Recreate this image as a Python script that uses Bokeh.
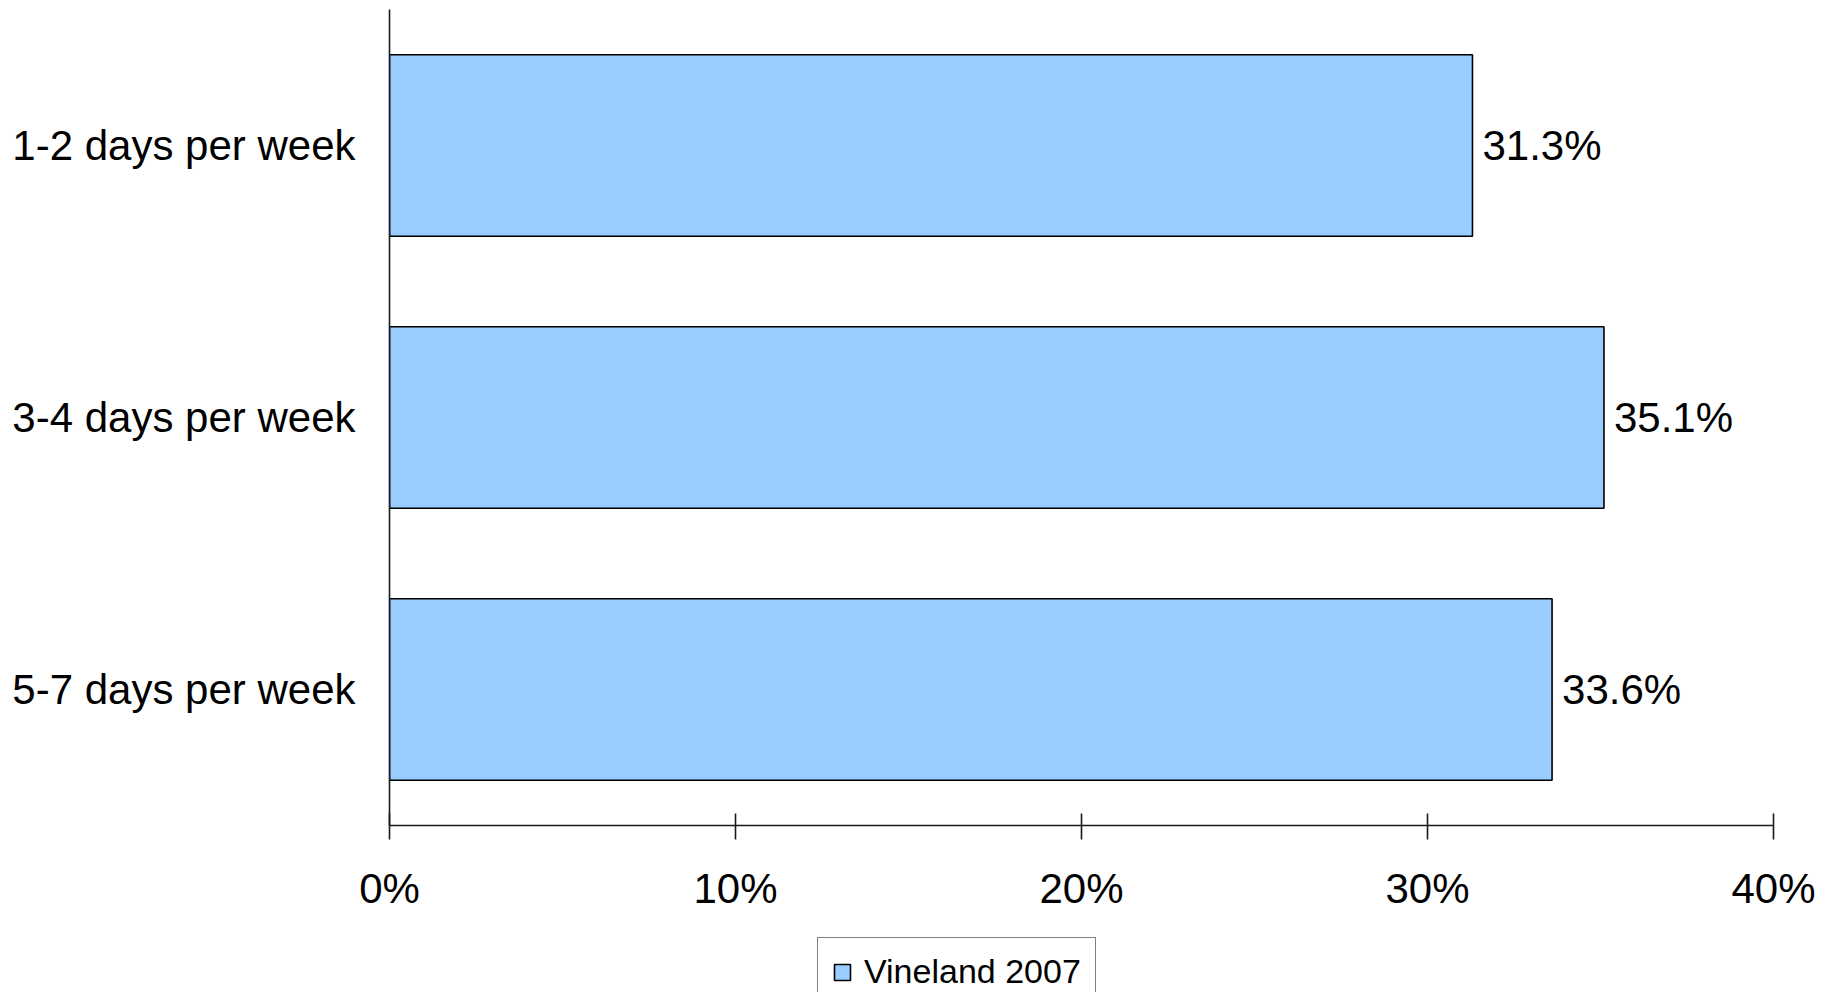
from bokeh.plotting import figure
from bokeh.layouts import column
from bokeh.models import ColumnDataSource, FactorRange, Range1d, NumeralTickFormatter, Legend, LegendItem, FixedTicker
from bokeh.core.properties import value
from bokeh.embed import file_html
from bokeh.resources import INLINE

categories = ["1-2 days per week", "3-4 days per week", "5-7 days per week"]
values = [0.313, 0.351, 0.336]
series_name = "Vineland 2007"
x_ticks = [0.0, 0.1, 0.2, 0.3, 0.4]

FONT = "Liberation Sans"
FILL = "#99CCFF"

src = ColumnDataSource(dict(
    cat=categories,
    val=values,
    lbl=[f"{v * 100:.1f}%" for v in values],
))

p = figure(
    width=1827, height=930,
    y_range=FactorRange(*list(reversed(categories)), range_padding=0),
    x_range=Range1d(0, 0.4),
    output_backend="svg", toolbar_location=None,
    min_border_left=389, min_border_right=54, min_border_top=9, min_border_bottom=105,
)
p.outline_line_color = None
p.xgrid.grid_line_color = None
p.ygrid.grid_line_color = None
p.background_fill_color = "white"
p.border_fill_color = "white"

bars = p.hbar(y="cat", right="val", left=0, height=0.667, source=src,
              fill_color=FILL, line_color="black", line_width=1.6)

p.text(x="val", y="cat", text="lbl", source=src, x_offset=10,
       text_baseline="middle", text_align="left",
       text_font=value(FONT), text_font_size="42px", text_color="black")

xa = p.xaxis[0]
xa.ticker = FixedTicker(ticks=x_ticks)
xa.formatter = NumeralTickFormatter(format="0%")
xa.major_tick_in = 12
xa.major_tick_out = 14
xa.minor_tick_line_color = None
xa.axis_line_color = "#1a1a1a"
xa.axis_line_width = 1.6
xa.major_tick_line_color = "#1a1a1a"
xa.major_tick_line_width = 1.6
xa.major_label_text_font = FONT
xa.major_label_text_font_size = "42px"
xa.major_label_text_color = "black"
xa.major_label_standoff = 25

ya = p.yaxis[0]
ya.major_tick_in = 0
ya.major_tick_out = 0
ya.minor_tick_line_color = None
ya.axis_line_color = "#1a1a1a"
ya.axis_line_width = 1.6
ya.major_label_text_font = FONT
ya.major_label_text_font_size = "42px"
ya.major_label_text_color = "black"
ya.major_label_standoff = 34

# legend strip below the chart
p2 = figure(
    width=1827, height=62,
    x_range=Range1d(0, 1), y_range=Range1d(0, 1),
    x_axis_location=None, y_axis_location=None,
    output_backend="svg", toolbar_location=None,
    min_border_left=0, min_border_right=0, min_border_top=0, min_border_bottom=0,
)
p2.outline_line_color = None
p2.grid.visible = False
p2.xgrid.grid_line_color = None
p2.ygrid.grid_line_color = None
p2.background_fill_color = "white"
p2.border_fill_color = "white"
# swatch renderer for the legend; its bar has no extent, so only the legend shows it
leg_src = ColumnDataSource(dict(y=[float("nan")], right=[float("nan")]))
swatch = p2.hbar(y="y", right="right", left=float("nan"), height=0.5, source=leg_src,
                 fill_color=FILL, line_color="black", line_width=1.6)

legend = Legend(
    items=[LegendItem(label=series_name, renderers=[swatch])],
    location=(428, -14),
    orientation="horizontal",
    label_text_font=FONT, label_text_font_size="34px", label_text_color="black",
    glyph_width=20, glyph_height=20, label_standoff=12,
    padding=14, margin=0, spacing=0,
    border_line_color="black", border_line_width=1.6,
    background_fill_color="white", background_fill_alpha=1,
)
p2.add_layout(legend, "center")

layout = column(p, p2, spacing=0)
open("out.html", "w").write(file_html(layout, INLINE))
